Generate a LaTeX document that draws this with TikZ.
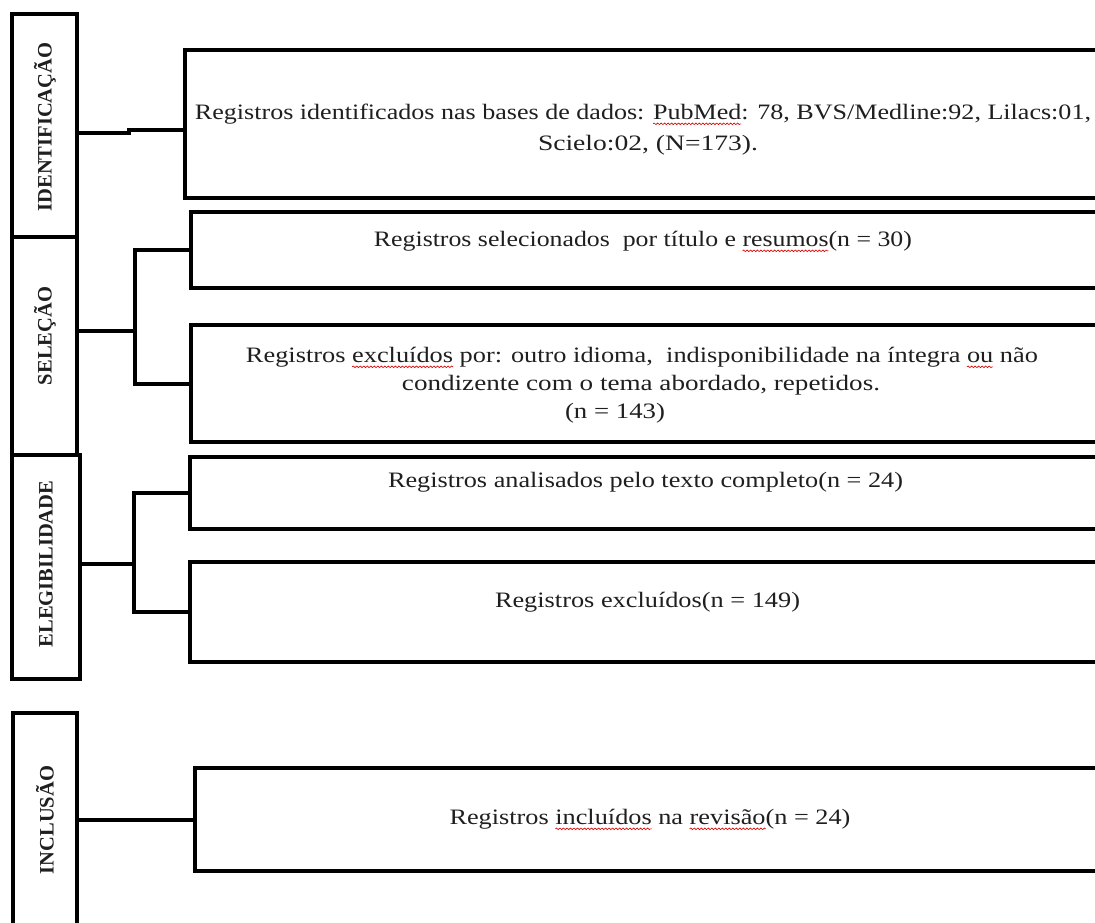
\documentclass[tikz,border=0pt]{standalone}
\usepackage{fontspec}
\setmainfont{Liberation Serif}
\usepackage{graphicx}
\usetikzlibrary{decorations.pathmorphing}
\newlength\sqw
\newcommand\sq[1]{\settowidth\sqw{#1}\rlap{\tikz[overlay,x=1pt,y=1pt]\draw[red!85!black, line width=0.45pt, decorate, decoration={snake, amplitude=0.6pt, segment length=2.2pt}] (0,-3.6) -- (\sqw,-3.6);}#1}
\newcommand\wfit[2]{\resizebox{\dimexpr0.75pt*#1\relax}{\height}{#2}}
\tikzset{
  frame/.style={draw=black, line width=3pt, inner sep=0pt, outer sep=0pt, anchor=north west},
  conn/.style={draw=black, line width=3pt},
  txt/.style={inner sep=0pt, anchor=base, text=black!88, font=\fontsize{16.5}{19}\selectfont},
  lab/.style={inner sep=0pt, rotate=90, text=black!88, font=\fontsize{15.4}{18}\selectfont\bfseries},
}
\newcommand\mkbox[5]{\node[frame, minimum width={(#4-#2)*0.75pt}, minimum height={(#5-#3)*0.75pt}] (#1) at (#2,#3) {};}
\begin{document}
\begin{tikzpicture}[x=0.75pt,y=-0.75pt]
\useasboundingbox (0,0) rectangle (1095,922);
\fill[white] (0,0) rectangle (1095,922);
\clip (0,0) rectangle (1095,922);
% stage boxes
\mkbox{id}{12}{14}{77}{237}
\mkbox{sel}{12}{237}{77}{455}
\mkbox{eleg}{12}{455}{80}{679}
\mkbox{incl}{13}{713}{77}{945}
% record boxes
\mkbox{b1}{185}{50}{1120}{198}
\mkbox{b2}{191}{212}{1120}{288}
\mkbox{b3}{191}{325}{1120}{442}
\mkbox{b4}{190}{457}{1120}{529}
\mkbox{b5}{190}{562}{1120}{662}
\mkbox{b6}{195}{768}{1120}{871}
% stage labels
\node[lab] (lid) at (45,127) {IDENTIFICAÇÃO};
\node[lab] (lsel) at (45,336) {SELEÇÃO};
\node[lab] (lel) at (46,564) {ELEGIBILIDADE};
\node[lab] (lin) at (45,820) {INCLUSÃO};
% texts
\node[txt] (t1a) at (643,119) {\wfit{896}{Registros identificados nas bases de dados: \sq{PubMed}: 78, BVS/Medline:92, Lilacs:01,}};
\node[txt] (t1b) at (648,150) {\wfit{220}{Scielo:02, (N=173).}};
\node[txt] (t2) at (643,246) {\wfit{538}{Registros selecionados\ \ por título e \sq{resumos}(n = 30)}};
\node[txt] (t3a) at (642,362) {\wfit{792}{Registros \sq{excluídos} por: outro idioma,\ \ indisponibilidade na íntegra \sq{ou} não}};
\node[txt] (t3b) at (641,390) {\wfit{478}{condizente com o tema abordado, repetidos.}};
\node[txt] (t3c) at (615,418) {\wfit{100}{(n = 143)}};
\node[txt] (t4) at (645.5,487) {\wfit{515}{Registros analisados pelo texto completo(n = 24)}};
\node[txt] (t5) at (647.5,607) {\wfit{305}{Registros excluídos(n = 149)}};
\node[txt] (t6) at (650,824) {\wfit{401}{Registros \sq{incluídos} na \sq{revisão}(n = 24)}};
% connectors
\draw[conn] (id.east |- 0,133) -- (129,133) -- (129,130) -- (b1.west |- 0,130);
\coordinate (sj) at (135,331);
\draw[conn] (sel.east |- sj) -- (sj);
\draw[conn] (b2.west) -| (sj) |- (b3.west);
\coordinate (ej) at (134,564);
\draw[conn] (eleg.east |- ej) -- (ej);
\draw[conn] (b4.west) -| (ej) |- (b5.west);
\draw[conn] (incl.east |- b6.west) -- (b6.west);
\end{tikzpicture}
\end{document}
